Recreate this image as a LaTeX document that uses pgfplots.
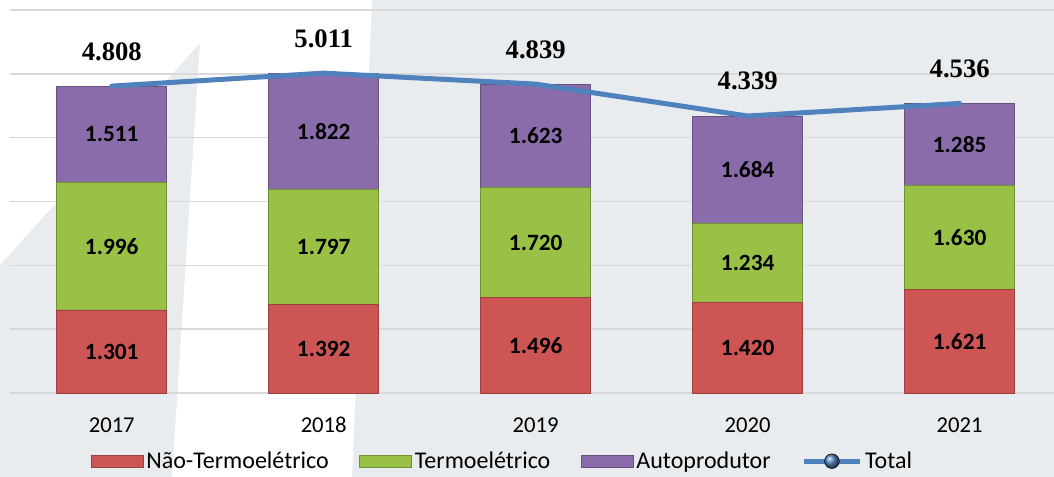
\documentclass[border=0pt]{standalone}
\usepackage{pgfplots}
\pgfplotsset{compat=1.18}
\usepackage{fontspec}
\setmainfont{Carlito}
\newfontfamily\serifb{Liberation Serif}
\definecolor{bg}{HTML}{E9ECEF}
\definecolor{cred}{HTML}{CD5553}
\definecolor{cgreen}{HTML}{98C146}
\definecolor{cpurple}{HTML}{8A6CAA}
\definecolor{cblue}{HTML}{4F81BD}
\definecolor{gridc}{HTML}{D9D9D9}
\pgfplotsset{
  barlegend/.style={legend image code/.code={\draw[##1] (0pt,-4.5pt) rectangle (39pt,4.5pt);}},
  totallegend/.style={legend image code/.code={\draw[cblue, line width=3.75pt] (0pt,0pt) -- (42pt,0pt); \shade[ball color=cblue] (21pt,0pt) circle (5.5pt);}},
}
\begin{document}
\begin{tikzpicture}[x=1pt,y=1pt]
\useasboundingbox (0,0) rectangle (790.5,357.75);
\fill[bg] (0,0) rectangle (790.5,357.75);
\fill[white] (0,357.75) -- (279,357.75) -- (264,0) -- (129,0) -- (150,325.5) -- (0,159) -- cycle;
\begin{axis}[
  at={(7.5pt,63pt)}, anchor=south west, scale only axis,
  width=783pt, height=287.25pt,
  xmin=-0.48, xmax=4.445, ymin=0, ymax=6000,
  ybar stacked, bar width=0.52,
  axis line style={draw=none}, major tick length=0pt,
  ytick={0,1000,...,6000}, yticklabels={},
  ymajorgrids, major grid style={gridc, line width=1.2pt},
  xtick={0,1,2,3,4}, xticklabels={2017,2018,2019,2020,2021},
  xticklabel style={anchor=base, yshift=-30pt, font=\fontsize{17}{20}\selectfont},
  clip=false,
  point meta=explicit symbolic,
  nodes near coords,
  every node near coord/.append style={anchor=center, font=\bfseries\fontsize{17.5}{20}\selectfont, text=black},
  legend style={draw=none, fill=none, at={(0.472,-0.178)}, anchor=center,
    legend columns=-1, font=\fontsize{18}{21}\selectfont,
    /tikz/every even column/.append style={column sep=21pt}},
]
\addplot[fill=cred, draw=cred!75!black, line width=0.6pt, barlegend]
  coordinates {(0,1301)[1.301] (1,1392)[1.392] (2,1496)[1.496] (3,1420)[1.420] (4,1621)[1.621]};
\addlegendentry{Não-Termoelétrico}
\addplot[fill=cgreen, draw=cgreen!75!black, line width=0.6pt, barlegend]
  coordinates {(0,1996)[1.996] (1,1797)[1.797] (2,1720)[1.720] (3,1234)[1.234] (4,1630)[1.630]};
\addlegendentry{Termoelétrico}
\addplot[fill=cpurple, draw=cpurple!75!black, line width=0.6pt, barlegend]
  coordinates {(0,1511)[1.511] (1,1822)[1.822] (2,1623)[1.623] (3,1684)[1.684] (4,1285)[1.285]};
\addlegendentry{Autoprodutor}
\addlegendimage{totallegend}
\addlegendentry{Total}
\end{axis}
\begin{axis}[
  at={(7.5pt,63pt)}, anchor=south west, scale only axis,
  width=783pt, height=287.25pt,
  xmin=-0.48, xmax=4.445, ymin=0, ymax=6000,
  axis lines=none, clip=false,
  point meta=explicit symbolic,
  nodes near coords,
  every node near coord/.append style={anchor=center, yshift=26pt, font=\serifb\bfseries\fontsize{20}{24}\selectfont, text=black},
]
\addplot[cblue, line width=3.75pt, mark=none, line cap=round, line join=round]
  coordinates {(0,4808)[4.808] (1,5011)[5.011] (2,4839)[4.839] (3,4339)[4.339] (4,4536)[4.536]};
\end{axis}
\end{tikzpicture}
\end{document}
